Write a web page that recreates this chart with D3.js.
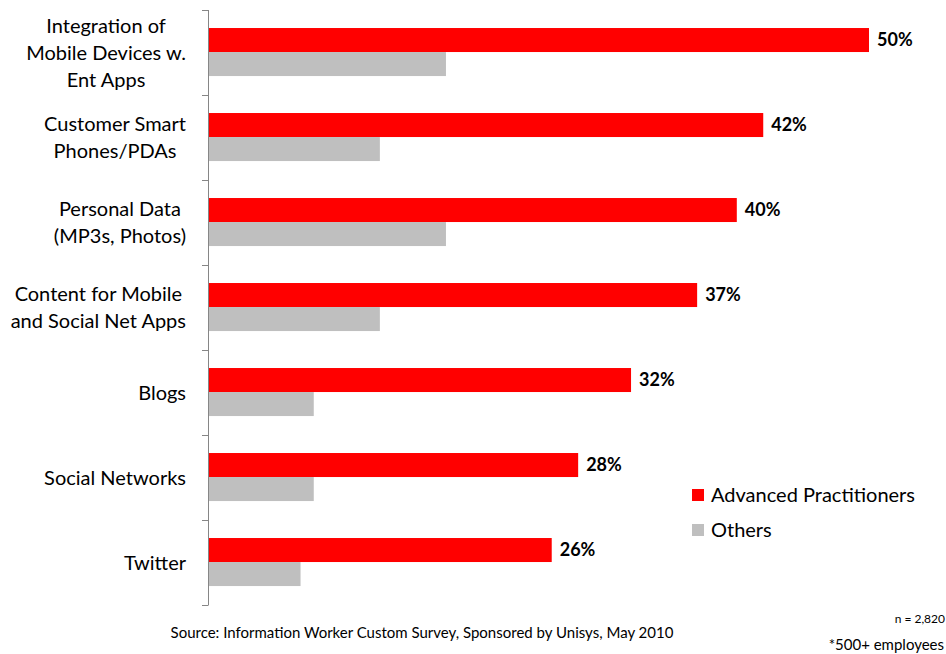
<!DOCTYPE html>
<html>
<head>
<meta charset="utf-8">
<script src="https://cdn.jsdelivr.net/npm/d3@7"></script>
<style>
  body { margin: 0; background: #fff; }
  svg text { font-family: Lato, "Open Sans", sans-serif; fill: #000; }
</style>
</head>
<body>
<svg id="chart" width="946" height="654"></svg>
<script>
// data
var categories = [
  ["Integration of", "Mobile Devices w.", "Ent Apps"],
  ["Customer Smart", "Phones/PDAs"],
  ["Personal Data", "(MP3s, Photos)"],
  ["Content for Mobile", "and Social Net Apps"],
  ["Blogs"],
  ["Social Networks"],
  ["Twitter"]
];
var seriesNames = ["Advanced Practitioners", "Others"];
var advanced = [50, 42, 40, 37, 32, 28, 26];
var others = [18, 13, 18, 13, 8, 8, 7];
var colors = ["#ff0000", "#bfbfbf"];

var svg = d3.select("#chart");

var x = d3.scaleLinear().domain([0, 50]).range([208, 869]);
var y = d3.scaleBand().domain(d3.range(categories.length)).range([10, 605]).padding(0);
var bw = y.bandwidth();
var y1 = d3.scaleBand().domain([0, 1]).range([bw * 0.212, bw * 0.777]).padding(0);

var rows = categories.map(function(c, i) {
  return { i: i, lines: c, vals: [advanced[i], others[i]] };
});

// bars
var g = svg.append("g");
var row = g.selectAll("g.row").data(rows).enter().append("g")
  .attr("class", "row")
  .attr("transform", function(d) { return "translate(0," + y(d.i) + ")"; });

row.selectAll("rect")
  .data(function(d) { return d.vals.map(function(v, k) { return { k: k, v: v }; }); })
  .enter().append("rect")
  .attr("x", x(0))
  .attr("y", function(d) { return y1(d.k); })
  .attr("width", function(d) { return x(d.v) - x(0); })
  .attr("height", y1.bandwidth())
  .attr("fill", function(d) { return colors[d.k]; });

// value labels on red bars
row.append("text")
  .attr("x", function(d) { return x(d.vals[0]) + 8; })
  .attr("y", y1(0) + y1.bandwidth() / 2)
  .attr("dy", "0.35em")
  .style("font-size", "18px")
  .style("font-weight", "bold")
  .text(function(d) { return d.vals[0] + "%"; });

// axis line + ticks between categories
var axisG = svg.append("g").attr("transform", "translate(208,0)");
axisG.append("line")
  .attr("x1", 0.5).attr("x2", 0.5)
  .attr("y1", 10).attr("y2", 605)
  .attr("stroke", "#868686").attr("stroke-width", 1);
axisG.selectAll("line.tick")
  .data(d3.range(categories.length + 1))
  .enter().append("line")
  .attr("class", "tick")
  .attr("x1", -6).attr("x2", 0.5)
  .attr("y1", function(d) { return Math.round(10 + d * bw) + 0.5; })
  .attr("y2", function(d) { return Math.round(10 + d * bw) + 0.5; })
  .attr("stroke", "#868686");

// category labels: block right-aligned at 186, lines centered in block
var lineH = 27;
row.each(function(d) {
  var grp = d3.select(this);
  var n = d.lines.length;
  var t = grp.append("text").style("font-size", "20px").attr("text-anchor", "middle");
  var spans = d.lines.map(function(l, j) {
    return t.append("tspan")
      .attr("y", bw / 2 + (j - (n - 1) / 2) * lineH)
      .attr("dy", "0.35em")
      .text(l);
  });
  var maxW = d3.max(spans, function(s) { return s.node().getComputedTextLength(); });
  var cx = 186 - maxW / 2;
  spans.forEach(function(s) { s.attr("x", cx); });
});

// legend
var legend = svg.append("g");
seriesNames.forEach(function(name, k) {
  var ly = 495 + k * 35;
  legend.append("rect")
    .attr("x", 692).attr("y", ly - 6)
    .attr("width", 12).attr("height", 12)
    .attr("fill", colors[k]);
  legend.append("text")
    .attr("x", 711).attr("y", ly)
    .attr("dy", "0.35em")
    .style("font-size", "20px")
    .text(name);
});

// footnotes
svg.append("text")
  .attr("x", 422).attr("y", 633)
  .attr("dy", "0.35em")
  .attr("text-anchor", "middle")
  .style("font-size", "15px")
  .text("Source: Information Worker Custom Survey, Sponsored by Unisys, May 2010");
svg.append("text")
  .attr("x", 945).attr("y", 619)
  .attr("dy", "0.35em")
  .attr("text-anchor", "end")
  .style("font-size", "12px")
  .text("n = 2,820");
svg.append("text")
  .attr("x", 944).attr("y", 645)
  .attr("dy", "0.35em")
  .attr("text-anchor", "end")
  .style("font-size", "15px")
  .text("*500+ employees");
</script>
</body>
</html>
